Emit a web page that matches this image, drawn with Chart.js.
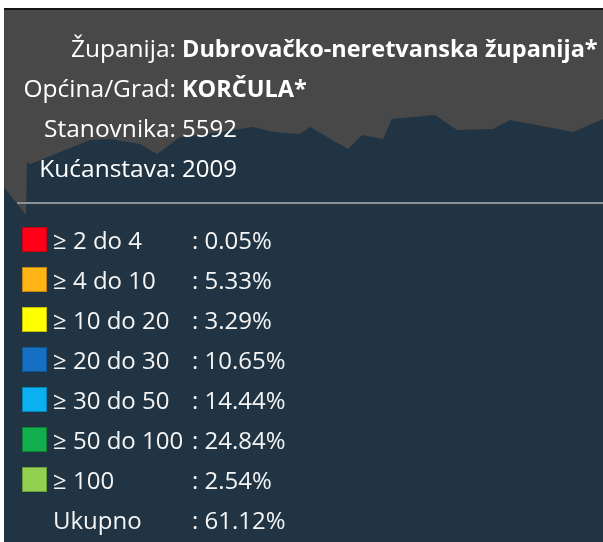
<!DOCTYPE html>
<html lang="hr">
<head>
    <meta charset="UTF-8">
    <title>KORČULA</title>
    <script src="https://cdn.jsdelivr.net/npm/chart.js"></script>
    <style>
        body {
            margin: 0;
            background: #ffffff;
            font-family: "Open Sans", sans-serif;
        }
        .panel {
            position: absolute;
            left: 4px;
            top: 8px;
            width: 599px;
            height: 534px;
            background: #484848;
            border-top: 2px solid #141414;
            box-sizing: border-box;
            overflow: hidden;
        }
        #bg {
            position: absolute;
            left: 0;
            top: 0;
        }
        .info {
            position: absolute;
            left: 0;
            top: 0;
            color: #ffffff;
            font-size: 24.5px;
        }
        .info .row {
            position: absolute;
            height: 40px;
            line-height: 40px;
            white-space: nowrap;
        }
        .info .lbl {
            position: absolute;
            right: 0;
            text-align: right;
        }
        .info .val {
            position: absolute;
            font-size: 24px;
        }
        .info .val.b {
            font-weight: bold;
            font-size: 23.5px;
        }
        .sep {
            position: absolute;
            left: 13px;
            top: 192px;
            width: 600px;
            height: 2px;
            background: #8a9197;
        }
        .legend .item {
            position: absolute;
            left: 0;
            height: 40px;
            line-height: 40px;
            white-space: nowrap;
            color: #f4f4f4;
            font-size: 24px;
        }
        .legend .sq {
            position: absolute;
            left: 18px;
            top: 7px;
            width: 25px;
            height: 25px;
            box-sizing: border-box;
            border: 1px solid rgba(0, 0, 0, 0.25);
        }
        .legend .name { position: absolute; left: 49px; }
        .legend .pct { position: absolute; left: 188px; }
    </style>
</head>
<body>
    <div class="panel">
        <canvas id="bg" width="599" height="532"></canvas>
        <div class="info" id="info"></div>
        <div class="sep"></div>
        <div class="legend" id="legend"></div>
    </div>

    <script>
        // header
        const infoLabels = ["Županija:", "Općina/Grad:", "Stanovnika:", "Kućanstava:"];
        const infoValues = ["Dubrovačko-neretvanska županija*", "KORČULA*", "5592", "2009"];
        const infoBold = [true, true, false, false];

        // legend
        const classes = ["≥ 2 do 4", "≥ 4 do 10", "≥ 10 do 20", "≥ 20 do 30", "≥ 30 do 50", "≥ 50 do 100", "≥ 100", "Ukupno"];
        const shares = [0.05, 5.33, 3.29, 10.65, 14.44, 24.84, 2.54, 61.12];
        const classColors = ["#ff0018", "#ffb516", "#ffff00", "#1570c4", "#0bb0f0", "#12ad4c", "#92d050", null];

        // background relief outline (x, y from top of panel)
        const reliefX = [0, 22, 23, 26, 39, 61, 86, 106, 136, 153, 176, 203, 229, 249, 269, 296, 306, 344, 358, 379, 388, 431, 453, 489, 506, 569, 597, 599];
        const reliefY = [177, 205, 152, 154, 149, 140, 130, 129, 134, 144, 127, 124, 120, 117, 122, 124, 117, 139, 125, 129, 109, 105, 120, 119, 110, 122, 110, 109];

        const info = document.getElementById("info");
        infoLabels.forEach(function (l, i) {
            const row = document.createElement("div");
            row.className = "row";
            row.style.left = "0px";
            row.style.width = "172px";
            row.style.top = (17.5 + i * 40) + "px";
            row.innerHTML = '<span class="lbl">' + l + '</span>';
            const v = document.createElement("span");
            v.className = infoBold[i] ? "val b" : "val";
            v.style.left = "178px";
            v.textContent = infoValues[i];
            row.appendChild(v);
            info.appendChild(row);
        });

        const legend = document.getElementById("legend");
        classes.forEach(function (c, i) {
            const it = document.createElement("div");
            it.className = "item";
            it.style.top = (209.7 + i * 40) + "px";
            it.style.width = "400px";
            let html = "";
            if (classColors[i]) html += '<span class="sq" style="background:' + classColors[i] + '"></span>';
            html += '<span class="name">' + c + '</span>';
            html += '<span class="pct">: ' + shares[i].toFixed(2) + '%</span>';
            it.innerHTML = html;
            legend.appendChild(it);
        });

        new Chart(document.getElementById("bg"), {
            type: "line",
            data: {
                datasets: [{
                    data: reliefX.map(function (x, i) { return { x: x, y: reliefY[i] }; }),
                    borderWidth: 0,
                    pointRadius: 0,
                    tension: 0,
                    fill: { value: 532 },
                    backgroundColor: "#213443"
                }]
            },
            options: {
                responsive: false,
                animation: false,
                layout: { padding: 0 },
                plugins: { legend: { display: false }, tooltip: { enabled: false } },
                scales: {
                    x: { type: "linear", min: 0, max: 599, display: false },
                    y: { min: 0, max: 532, reverse: true, display: false }
                }
            }
        });
    </script>
</body>
</html>
